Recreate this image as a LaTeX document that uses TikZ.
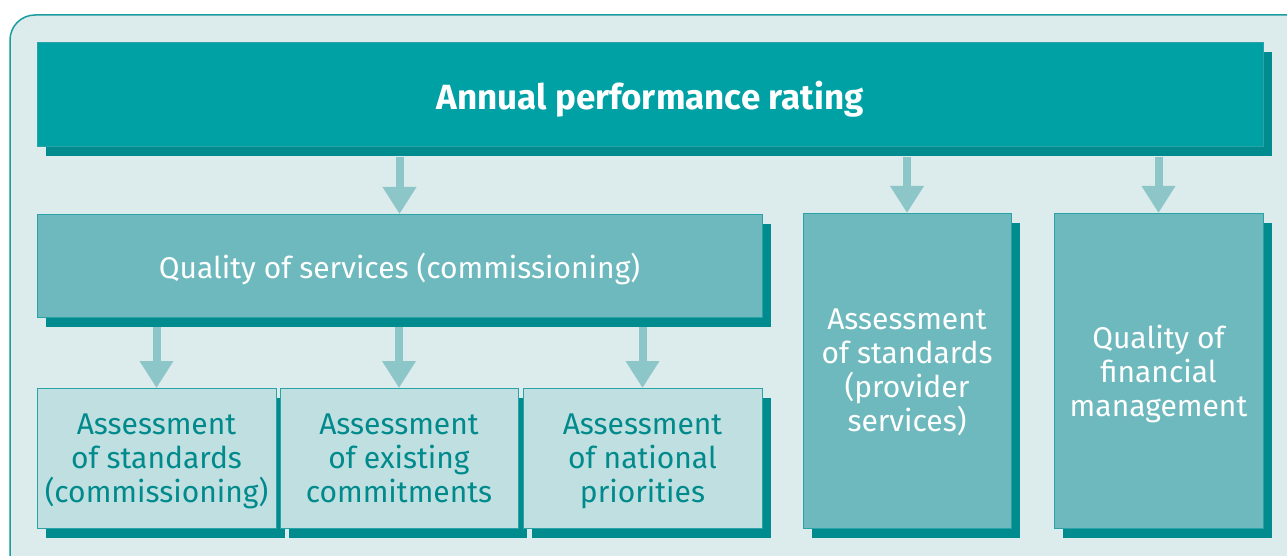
\documentclass[tikz,border=0pt]{standalone}
\usepackage{fontspec}
\setmainfont{Fira Sans}
\usetikzlibrary{arrows.meta, shadows}
\definecolor{bgc}{HTML}{DCEBEB}
\definecolor{framec}{HTML}{1B9C9E}
\definecolor{edgec}{HTML}{2BA3A6}
\definecolor{topc}{HTML}{00A1A5}
\definecolor{shadec}{HTML}{008C8E}
\definecolor{midc}{HTML}{6EB9BD}
\definecolor{lightc}{HTML}{C0DFE1}
\definecolor{arrc}{HTML}{8DC6C8}
\definecolor{textc}{HTML}{008A8C}

\begin{document}
\begin{tikzpicture}[x=1pt, y=-1pt,
panel/.style={draw=edgec, line width=1pt, inner sep=0pt, outer sep=0pt,
  anchor=north west, align=center, text depth=0pt,
  drop shadow={shadow xshift=9pt, shadow yshift=-9.5pt, fill=shadec, opacity=1}},
headbox/.style={panel, fill=topc, text=white, font=\fontsize{35}{40}\selectfont\bfseries},
midbox/.style={panel, fill=midc, text=white, font=\fontsize{30}{34}\selectfont},
lowbox/.style={panel, fill=lightc, text=textc, font=\fontsize{30}{34}\selectfont},
link/.style={draw=arrc, line width=8pt, -{Triangle[width=32pt, length=27pt]}, shorten <=10pt}
]
\path[use as bounding box, clip] (0,0) rectangle (1287,556);
\fill[white] (0,0) rectangle (1287,556);
\draw[fill=bgc, draw=framec, line width=1.5pt, rounded corners=25pt] (10,15) rectangle (1320,590);

% top row
\node[headbox, minimum width=1226pt, minimum height=104pt] (top) at (37,43) {Annual performance rating};

% second row
\node[midbox, minimum width=725pt, minimum height=103pt] (quality) at (37,214) {Quality of services (commissioning)};
\node[midbox, minimum width=208pt, minimum height=315pt] (prov) at (803,213) {Assessment\\of standards\\(provider\\services)};
\node[midbox, minimum width=209pt, minimum height=315pt] (fin) at (1054,213) {Quality of\\financial\\management};

% bottom row
\node[lowbox, minimum width=239pt, minimum height=140pt] (std) at (37,388) {Assessment\\of standards\\(commissioning)};
\node[lowbox, minimum width=238pt, minimum height=140pt] (exist) at (280,388) {Assessment\\of existing\\commitments};
\node[lowbox, minimum width=239pt, minimum height=140pt] (natl) at (523,388) {Assessment\\of national\\priorities};

\draw[link] (top.south -| quality.north) -- (quality.north);
\draw[link] (top.south -| prov.north) -- (prov.north);
\draw[link] (top.south -| fin.north) -- (fin.north);
\foreach \b in {std, exist, natl}
  \draw[link] (quality.south -| \b.north) -- (\b.north);
\end{tikzpicture}
\end{document}
